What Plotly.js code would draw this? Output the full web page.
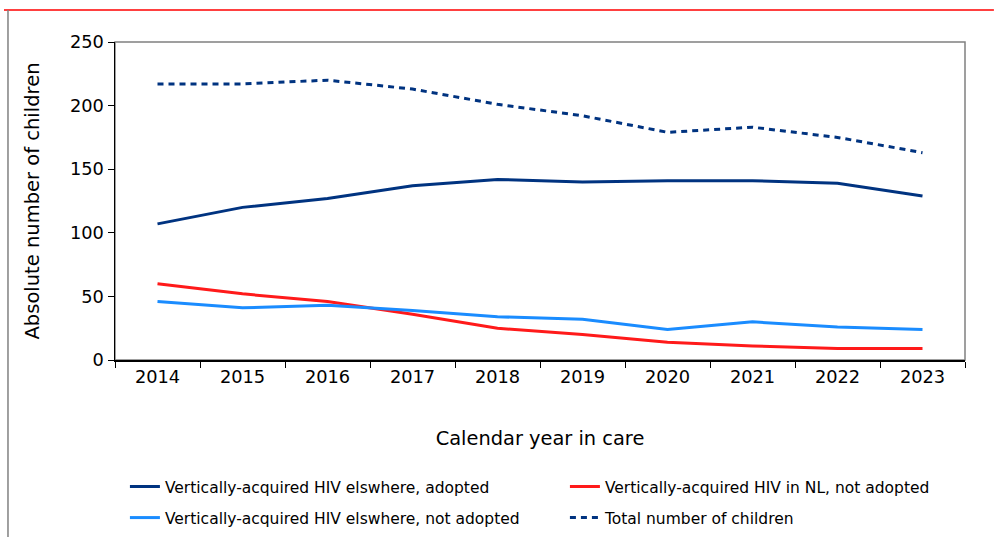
<!DOCTYPE html>
<html><head><meta charset="utf-8">
<script src="https://cdn.plot.ly/plotly-3.0.1.min.js"></script>
<style>html,body{margin:0;padding:0;background:#fff}#chart{width:994px;height:537px}</style>
</head><body><div id="chart"></div>
<script>
const years = ["2014","2015","2016","2017","2018","2019","2020","2021","2022","2023"];
const adopted = [107,120,127,137,142,140,141,141,139,129];
const nlNotAdopted = [60,52,46,36,25,20,14,11,9,9];
const elsewhereNotAdopted = [46,41,43,39,34,32,24,30,26,24];
const total = [217,217,220,213,201,192,179,183,175,163];
const names = ["Vertically-acquired HIV elswhere, adopted","Vertically-acquired HIV in NL, not adopted","Vertically-acquired HIV elswhere, not adopted","Total number of children"];

const traces = [
  {x:years,y:adopted,name:names[0],type:'scatter',mode:'lines',line:{color:'#003380',width:3},legend:'legend'},
  {x:years,y:nlNotAdopted,name:names[1],type:'scatter',mode:'lines',line:{color:'#ff1a1a',width:3},legend:'legend'},
  {x:years,y:elsewhereNotAdopted,name:names[2],type:'scatter',mode:'lines',line:{color:'#1a8cff',width:3},legend:'legend2'},
  {x:years,y:total,name:names[3],type:'scatter',mode:'lines',line:{color:'#003380',width:3,dash:'6px,5px'},legend:'legend2'}
];
const F = 'Verdana, "DejaVu Sans", sans-serif';
const legBase = {orientation:'h',x:-0.0001,xanchor:'left',yanchor:'top',entrywidth:385,entrywidthmode:'pixels',
    itemwidth:30,indentation:10,font:{size:15.5,family:F},bgcolor:'rgba(0,0,0,0)'};
const layout = {
  width:994,height:537,
  margin:{l:115,r:29,t:42,b:177,autoexpand:false},
  paper_bgcolor:'#fff',plot_bgcolor:'#fff',
  font:{family:F,color:'#000',size:17},
  showlegend:true,
  xaxis:{type:'category',range:[-0.5,9.5],showgrid:false,zeroline:false,showline:true,linecolor:'#000',linewidth:1.5,
    ticks:'outside',tickson:'boundaries',ticklen:6,tickcolor:'#000',tickfont:{size:17.8,family:F},
    title:{text:'Calendar year in care',font:{size:19.4,family:F},standoff:45}},
  yaxis:{range:[0,250],dtick:50,showgrid:false,zeroline:false,showline:true,linecolor:'#000',linewidth:1.5,
    ticks:'outside',ticklen:6,tickcolor:'#000',tickfont:{size:17.8,family:F},
    title:{text:'Absolute number of children',font:{size:19.5,family:F},standoff:25}},
  legend:Object.assign({},legBase,{y:-0.3457}),
  legend2:Object.assign({},legBase,{y:-0.4434}),
  shapes:[
    {type:'rect',xref:'paper',yref:'paper',x0:0,x1:1,y0:0,y1:1,line:{color:'#808080',width:1.5},layer:'below'},
    {type:'line',xref:'paper',yref:'paper',x0:-0.1306,x1:1.034,y0:1.1006,y1:1.1006,line:{color:'#ff0000',width:1.5}},
    {type:'line',xref:'paper',yref:'paper',x0:-0.1259,x1:-0.1259,y0:1.1006,y1:-0.56,line:{color:'#808080',width:1.5}}
  ]
};
Plotly.newPlot('chart',traces,layout,{displayModeBar:false,staticPlot:true});
</script></body></html>
